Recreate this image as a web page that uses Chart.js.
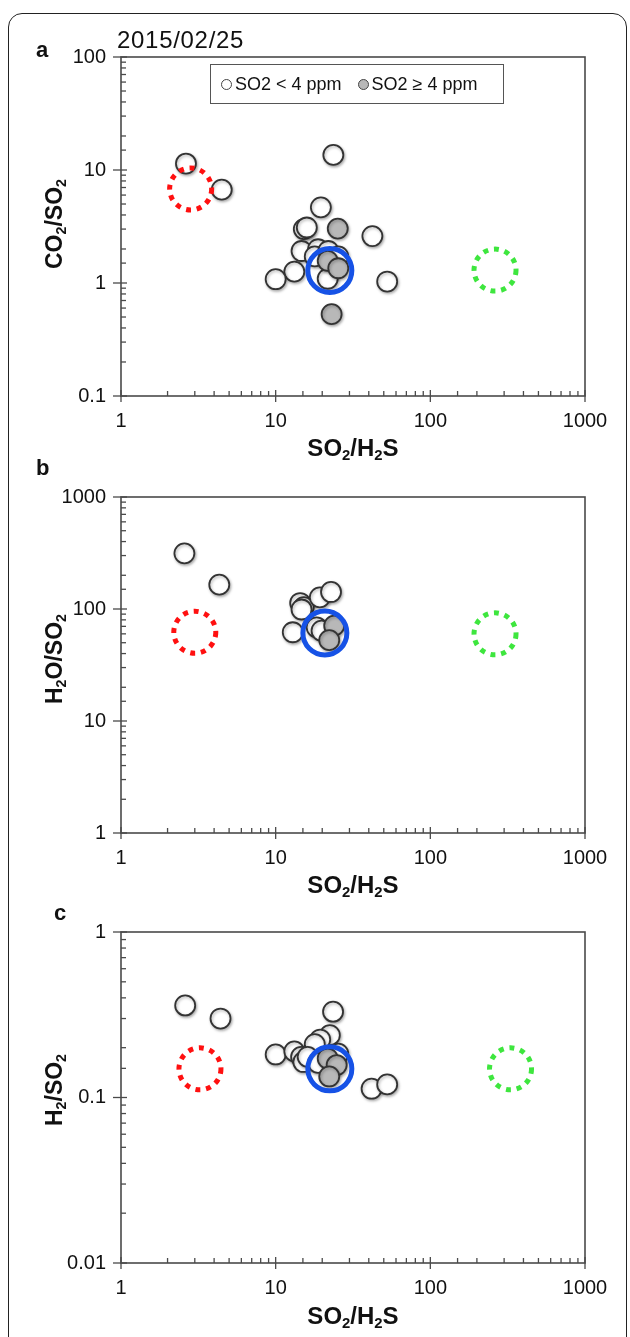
<!DOCTYPE html>
<html>
<head>
<meta charset="utf-8">
<script src="https://cdn.jsdelivr.net/npm/chart.js@4.4.1/dist/chart.umd.min.js"></script>
<style>
body { margin: 0; background: #fff; font-family: "Liberation Sans", Arial, sans-serif; color: #111; }
#page { position: relative; width: 630px; height: 1337px; overflow: hidden; }
#frame { position: absolute; left: 8px; top: 13px; width: 617px; height: 1400px; border: 1.5px solid #222; border-radius: 14px; }
canvas { position: absolute; left: 0; }
.txt { position: absolute; white-space: nowrap; line-height: 1; }
.letter { font-weight: bold; font-size: 22px; }
.title { font-weight: bold; font-size: 24px; transform: translate(-50%, -50%); }
.ytitle { font-weight: bold; font-size: 23px; transform: translate(-50%, -50%) rotate(-90deg); }
sub { font-size: 0.62em; vertical-align: -0.3em; line-height: 0; }
#date { left: 117px; top: 28px; font-size: 24px; letter-spacing: 0.7px; }
#legend { position: absolute; left: 210px; top: 64px; width: 294px; height: 40px; border: 1.5px solid #555; box-sizing: border-box; font-size: 18px; display: flex; align-items: center; padding-left: 10px; }
#legend .dot { display: inline-block; width: 11px; height: 11px; border-radius: 50%; border: 1.5px solid #444; margin-right: 3px; box-sizing: border-box; }
#legend .gap { width: 16px; }
</style>
</head>
<body>
<div id="page">
  <div id="frame"></div>
  <canvas id="chartA" style="top:30px" width="630" height="420"></canvas>
  <canvas id="chartB" style="top:470px" width="630" height="420"></canvas>
  <canvas id="chartC" style="top:905px" width="630" height="400"></canvas>

  <div class="txt letter" style="left:36px;top:39px">a</div>
  <div class="txt letter" style="left:36px;top:457px">b</div>
  <div class="txt letter" style="left:54px;top:902px">c</div>
  <div class="txt" id="date">2015/02/25</div>
  <div id="legend">
    <span class="dot" style="background:#fff"></span>SO2 &lt; 4 ppm<span class="gap"></span>
    <span class="dot" style="background:#b8b8b8"></span>SO2 ≥ 4 ppm
  </div>

  <div class="txt ytitle" style="left:54px;top:224px">CO<sub>2</sub>/SO<sub>2</sub></div>
  <div class="txt ytitle" style="left:54px;top:659px">H<sub>2</sub>O/SO<sub>2</sub></div>
  <div class="txt ytitle" style="left:54px;top:1090px">H<sub>2</sub>/SO<sub>2</sub></div>
  <div class="txt title" style="left:353px;top:448px">SO<sub>2</sub>/H<sub>2</sub>S</div>
  <div class="txt title" style="left:353px;top:885px">SO<sub>2</sub>/H<sub>2</sub>S</div>
  <div class="txt title" style="left:353px;top:1316px">SO<sub>2</sub>/H<sub>2</sub>S</div>
</div>
<script>
// tick labels
var xTicks = ['1', '10', '100', '1000'];
var yTicksA = ['0.1', '1', '10', '100'];
var yTicksB = ['1', '10', '100', '1000'];
var yTicksC = ['0.01', '0.1', '1'];

// panel a: CO2/SO2 vs SO2/H2S
var aOpenX = [2.63, 4.48, 23.6, 19.6, 15.2, 15.9, 42.2, 14.7, 18.8, 17.9, 21.9, 25.4, 21.7, 13.2, 10.0, 52.6];
var aOpenY = [11.4, 6.7, 13.6, 4.67, 3.0, 3.1, 2.6, 1.92, 1.99, 1.72, 1.92, 1.72, 1.09, 1.26, 1.08, 1.03];
var aHighX = [25.2, 21.7, 25.4, 23.0];
var aHighY = [3.03, 1.57, 1.35, 0.53];

// panel b: H2O/SO2 vs SO2/H2S
var bOpenX = [2.57, 4.32, 14.4, 15.2, 14.7, 19.3, 22.8, 12.9, 18.4, 19.8];
var bOpenY = [314, 165, 113, 104, 99, 127, 142, 62, 68.6, 64];
var bHighX = [23.9, 22.2];
var bHighY = [71, 52.7];

// panel c: H2/SO2 vs SO2/H2S
var cOpenX = [2.6, 4.4, 23.5, 22.4, 19.4, 17.9, 10.0, 13.2, 14.6, 15.1, 16.1, 18.8, 25.4, 41.7, 52.6];
var cOpenY = [0.36, 0.30, 0.33, 0.238, 0.224, 0.21, 0.182, 0.19, 0.176, 0.164, 0.176, 0.162, 0.184, 0.113, 0.12];
var cHighX = [21.7, 24.8, 22.2];
var cHighY = [0.172, 0.157, 0.134];

// reference compositions (blue, red, green rings): [x, y] per panel
var blueRing = { a: [22.4, 1.29], b: [20.8, 61], c: [22.4, 0.149] };
var redRing = { a: [2.82, 6.8], b: [3.0, 62], c: [3.24, 0.149] };
var greenRing = { a: [262, 1.3], b: [262, 60], c: [330, 0.149] };

function pts(xs, ys) {
    return xs.map(function (x, i) { return { x: x, y: ys[i] }; });
}

function isDecade(v) {
    var l = Math.log10(v);
    return Math.abs(l - Math.round(l)) < 1e-6;
}

function decadeLabels(labels, min) {
    var base = Math.round(Math.log10(min));
    return function (v) {
        if (!isDecade(v)) return '';
        return labels[Math.round(Math.log10(v)) - base] || '';
    };
}

// box round the plot plus log tick marks (majors cross the axis, minors point inward)
var frameTicks = {
    id: 'frameTicks',
    afterDraw: function (chart) {
        var ctx = chart.ctx, a = chart.chartArea;
        var sx = chart.scales.x, sy = chart.scales.y;
        ctx.save();
        ctx.strokeStyle = '#4a4a4a';
        ctx.lineWidth = 1.6;
        ctx.strokeRect(a.left, a.top, a.right - a.left, a.bottom - a.top);
        ctx.lineWidth = 1.3;
        sx.ticks.forEach(function (t) {
            var px = sx.getPixelForValue(t.value);
            var major = isDecade(t.value);
            ctx.beginPath();
            ctx.moveTo(px, a.bottom + (major ? 6 : 0));
            ctx.lineTo(px, a.bottom - (major ? 6 : 5));
            ctx.stroke();
        });
        sy.ticks.forEach(function (t) {
            var py = sy.getPixelForValue(t.value);
            var major = isDecade(t.value);
            ctx.beginPath();
            ctx.moveTo(a.left - (major ? 8 : 0), py);
            ctx.lineTo(a.left + (major ? 6 : 5), py);
            ctx.stroke();
        });
        ctx.restore();
    }
};

// soft shadow under the sample markers, dotted outline for the dashed rings
var markStyle = {
    id: 'markStyle',
    beforeDatasetDraw: function (chart, args) {
        var ds = chart.data.datasets[args.index];
        var ctx = chart.ctx;
        ctx.save();
        if (ds.dash) {
            ctx.setLineDash(ds.dash);
            ctx.lineCap = 'butt';
        } else if (ds.shadow) {
            ctx.shadowColor = 'rgba(0,0,0,0.3)';
            ctx.shadowBlur = 3;
            ctx.shadowOffsetX = 1;
            ctx.shadowOffsetY = 1.5;
        }
    },
    afterDatasetDraw: function (chart) {
        chart.ctx.restore();
    }
};

function ring(p, color, dash) {
    return {
        data: [{ x: p[0], y: p[1] }],
        pointRadius: dash ? 21 : 22,
        pointBorderWidth: 5,
        pointBorderColor: color,
        pointBackgroundColor: 'rgba(0,0,0,0)',
        dash: dash
    };
}

function samples(data, fill) {
    return {
        data: data,
        pointRadius: 10,
        pointBorderWidth: 1.8,
        pointBorderColor: '#333',
        pointBackgroundColor: fill,
        shadow: true
    };
}

function makePanel(id, key, yMin, yMax, yLabels, open, high, padTop, axisH) {
    return new Chart(document.getElementById(id), {
        type: 'scatter',
        data: {
            datasets: [
                ring(blueRing[key], '#1652e6', null),
                ring(redRing[key], '#ff1010', [5, 5.8]),
                ring(greenRing[key], '#3ee63e', [5, 5.8]),
                samples(high, '#b8b8b8'),
                samples(open, '#ffffff')
            ]
        },
        options: {
            responsive: false,
            animation: false,
            events: [],
            layout: { padding: { left: 0, right: 45, top: padTop, bottom: 0 } },
            plugins: { legend: { display: false }, tooltip: { enabled: false } },
            scales: {
                x: {
                    type: 'logarithmic', min: 1, max: 1000,
                    grid: { display: false, drawTicks: false }, border: { display: false },
                    ticks: {
                        autoSkip: false, maxRotation: 0, padding: 13, color: '#111',
                        font: { size: 20, family: '"Liberation Sans", Arial' },
                        callback: decadeLabels(xTicks, 1)
                    },
                    afterFit: function (s) { s.height = axisH; }
                },
                y: {
                    type: 'logarithmic', min: yMin, max: yMax,
                    grid: { display: false, drawTicks: false }, border: { display: false },
                    ticks: {
                        autoSkip: false, padding: 15, color: '#111',
                        font: { size: 20, family: '"Liberation Sans", Arial' },
                        callback: decadeLabels(yLabels, yMin)
                    },
                    afterFit: function (s) { s.width = 121; }
                }
            }
        },
        plugins: [markStyle, frameTicks]
    });
}

makePanel('chartA', 'a', 0.1, 100, yTicksA, pts(aOpenX, aOpenY), pts(aHighX, aHighY), 21, 54);
makePanel('chartB', 'b', 1, 1000, yTicksB, pts(bOpenX, bOpenY), pts(bHighX, bHighY), 15, 57);
makePanel('chartC', 'c', 0.01, 1, yTicksC, pts(cOpenX, cOpenY), pts(cHighX, cHighY), 12, 42);
</script>
</body>
</html>
